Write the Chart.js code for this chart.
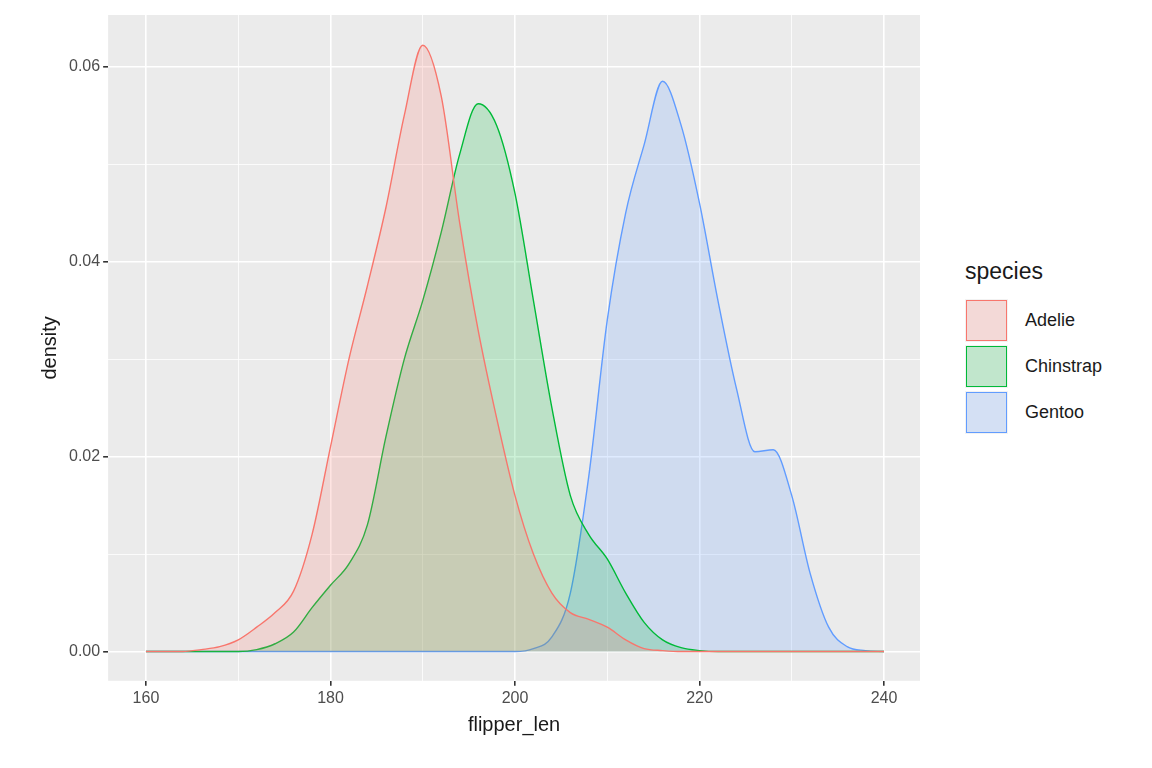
<!DOCTYPE html>
<html><head><meta charset="utf-8">
<script src="https://cdn.jsdelivr.net/npm/chart.js@4/dist/chart.umd.min.js"></script>
<style>
body{margin:0;background:#fff;font-family:Arial,"Liberation Sans",sans-serif;}
#wrap{position:absolute;left:0;top:0;width:935px;height:768px;}
#legend{position:absolute;left:965px;top:258px;color:#1a1a1a;}
.lt{font-size:23px;margin-bottom:12px;}
.li{display:flex;align-items:center;height:46px;font-size:18px;}
.key{width:43px;height:43px;background:#F2F2F2;position:relative;margin-right:17px;box-sizing:border-box;}
.key div{position:absolute;left:1px;top:1px;right:1px;bottom:1px;border:1.5px solid;}
</style></head><body>
<div id="wrap"><canvas id="c"></canvas></div>
<div id="legend"><div class="lt">species</div>
<div class="li"><div class="key"><div style="border-color:#F8766D;background:rgba(248,118,109,0.2)"></div></div>Adelie</div>
<div class="li"><div class="key"><div style="border-color:#00BA38;background:rgba(0,186,56,0.2)"></div></div>Chinstrap</div>
<div class="li"><div class="key"><div style="border-color:#619CFF;background:rgba(97,156,255,0.2)"></div></div>Gentoo</div>
</div>
<script>
const xs = [160,162,164,166,168,170,172,174,176,178,180,182,184,186,188,190,192,194,196,198,200,202,204,206,208,210,212,214,216,218,220,222,224,226,228,230,232,234,236,238,240];
const adelie = [0,0,0,0.0002,0.0005,0.0012,0.0025,0.004,0.0062,0.012,0.021,0.03,0.0375,0.0455,0.055,0.0622,0.057,0.044,0.033,0.024,0.016,0.01,0.006,0.004,0.0033,0.0025,0.0012,0.0003,0.0001,0,0,0,0,0,0,0,0,0,0,0,0];
const chinstrap = [0,0,0,0,0,0,0.0002,0.0008,0.002,0.0045,0.0068,0.009,0.013,0.022,0.03,0.036,0.043,0.051,0.0562,0.054,0.047,0.036,0.025,0.016,0.012,0.0095,0.006,0.003,0.0012,0.0004,0.0001,0,0,0,0,0,0,0,0,0,0];
const gentoo = [0,0,0,0,0,0,0,0,0,0,0,0,0,0,0,0,0,0,0,0,0,0.0003,0.0015,0.006,0.018,0.034,0.045,0.052,0.0585,0.054,0.046,0.036,0.027,0.0205,0.0207,0.016,0.008,0.0025,0.0005,0.0001,0];
const xTicks = [160,180,200,220,240];
const yTicks = [0,0.02,0.04,0.06];
const toPts = a => a.map((v,i)=>({x:xs[i],y:v}));
const bg = {id:'bg',beforeDraw(c){const a=c.chartArea,x=c.ctx;x.save();x.fillStyle='#EBEBEB';x.fillRect(a.left,a.top,a.width,a.height);x.restore();}};
const ds=(l,d,col,f)=>({label:l,data:toPts(d),borderColor:col,backgroundColor:f,fill:'origin',borderWidth:1.4,pointRadius:0,tension:0.4,cubicInterpolationMode:'monotone'});
new Chart(document.getElementById('c'),{type:'line',
data:{datasets:[ds('Adelie',adelie,'#F8766D','rgba(248,118,109,0.2)'),ds('Chinstrap',chinstrap,'#00BA38','rgba(0,186,56,0.2)'),ds('Gentoo',gentoo,'#619CFF','rgba(97,156,255,0.2)')]},
options:{responsive:true,maintainAspectRatio:false,animation:false,layout:{padding:{top:15,right:15,bottom:27,left:34}},
plugins:{legend:{display:false},tooltip:{enabled:false}},
scales:{
x:{type:'linear',min:155.9,max:243.9,
afterBuildTicks(s){s.ticks=[170,190,210,230].concat(xTicks).sort((a,b)=>a-b).map(v=>({value:v}));},
grid:{color:'#fff',lineWidth:c=>c.tick&&c.tick.value%20===0?1.6:0.8,tickColor:c=>c.tick&&c.tick.value%20===0?'#333':'rgba(0,0,0,0)',tickLength:5,drawBorder:false},border:{display:false},
ticks:{color:'#4D4D4D',font:{size:16},autoSkip:false,maxRotation:0,callback:v=>xTicks.includes(v)?v:''},
title:{display:true,text:'flipper_len',color:'#1a1a1a',font:{size:20},padding:{top:2}}},
y:{type:'linear',min:-0.003,max:0.0653,
afterBuildTicks(s){s.ticks=[0,0.01,0.02,0.03,0.04,0.05,0.06].map(v=>({value:v}));},
grid:{color:'#fff',lineWidth:c=>c.tick&&Math.round(c.tick.value*100)%2===0?1.6:0.8,tickColor:c=>c.tick&&Math.round(c.tick.value*100)%2===0?'#333':'rgba(0,0,0,0)',tickLength:5},border:{display:false},
ticks:{color:'#4D4D4D',font:{size:16},autoSkip:false,callback:v=>Math.round(v*100)%2===0?v.toFixed(2):''},
title:{display:true,text:'density',color:'#1a1a1a',font:{size:20}}}}},
plugins:[bg]});
</script></body></html>
